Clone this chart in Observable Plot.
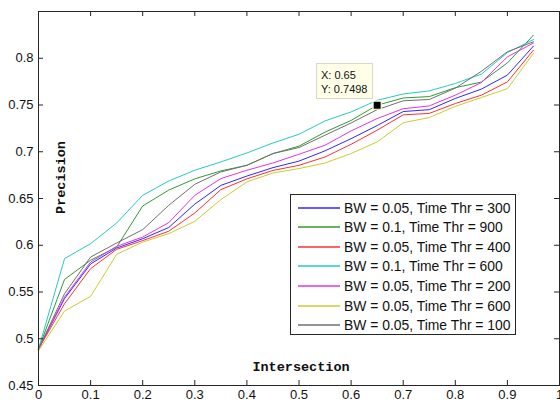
<!DOCTYPE html>
<html>
<head>
<meta charset="utf-8">
<script src="https://cdn.jsdelivr.net/npm/d3@7"></script>
<script src="https://cdn.jsdelivr.net/npm/@observablehq/plot@0.6"></script>
<style>
  html, body { margin: 0; padding: 0; background: #fff; }
  #wrap { position: relative; width: 560px; height: 404px; overflow: hidden; font-family: "Liberation Sans", Arial, Helvetica, sans-serif; }
  #legend { position: absolute; box-sizing: border-box; background: #fff; border: 1px solid #262626; }
  .entry { position: absolute; left: 0; height: 18px; width: 100%; }
  .sw { position: absolute; left: 7px; width: 42px; top: 8px; height: 2px; opacity: 0.75; }
  .lab { position: absolute; left: 53px; top: 0; font-size: 13.9px; line-height: 18px; color: #111; white-space: nowrap; }
  #tip { position: absolute; box-sizing: border-box; background: #ffffe8; border: 1px solid #d8d8c4; font-size: 11px; line-height: 14px; color: #111; padding: 4px 0 0 4px; white-space: nowrap; }
</style>
</head>
<body>
<div id="wrap"></div>
<script>
// ---- data ----
const xs = [0, 0.05, 0.1, 0.15, 0.2, 0.25, 0.3, 0.35, 0.4, 0.45, 0.5, 0.55, 0.6, 0.65, 0.7, 0.75, 0.8, 0.85, 0.9, 0.95];

const seriesNames = [
  "BW = 0.05, Time Thr = 300",
  "BW = 0.1, Time Thr = 900",
  "BW = 0.05, Time Thr = 400",
  "BW = 0.1, Time Thr = 600",
  "BW = 0.05, Time Thr = 200",
  "BW = 0.05, Time Thr = 600",
  "BW = 0.05, Time Thr = 100"
];
const seriesColors = ["#2a2aff", "#339933", "#ff3030", "#2ac8c8", "#e633e6", "#cccc30", "#707070"];

const bw005_300 = [0.489, 0.543, 0.580, 0.597, 0.607, 0.619, 0.644, 0.664, 0.674, 0.683, 0.690, 0.701, 0.714, 0.728, 0.743, 0.745, 0.757, 0.767, 0.782, 0.813];
const bw01_900  = [0.489, 0.5635, 0.584, 0.598, 0.642, 0.659, 0.671, 0.6795, 0.6855, 0.698, 0.706, 0.721, 0.7335, 0.7498, 0.7575, 0.759, 0.7685, 0.7745, 0.795, 0.8247];
const bw005_400 = [0.489, 0.5375, 0.575, 0.5956, 0.605, 0.615, 0.6345, 0.6595, 0.671, 0.680, 0.6855, 0.6944, 0.708, 0.723, 0.7395, 0.741, 0.7516, 0.7605, 0.7747, 0.8087];
const bw01_600  = [0.489, 0.5857, 0.6017, 0.6238, 0.6534, 0.6687, 0.6802, 0.6891, 0.6987, 0.7094, 0.7187, 0.733, 0.7426, 0.755, 0.7618, 0.7651, 0.773, 0.783, 0.806, 0.820];
const bw005_200 = [0.489, 0.5446, 0.582, 0.5988, 0.6088, 0.6242, 0.6534, 0.6713, 0.6802, 0.688, 0.6973, 0.707, 0.7223, 0.7355, 0.746, 0.749, 0.7605, 0.774, 0.8015, 0.8163];
const bw005_600 = [0.487, 0.5296, 0.5453, 0.5903, 0.6034, 0.6124, 0.6256, 0.6488, 0.6677, 0.6773, 0.682, 0.688, 0.6981, 0.7105, 0.731, 0.7366, 0.7485, 0.758, 0.7675, 0.8051];
const bw005_100 = [0.489, 0.5482, 0.5874, 0.6024, 0.6167, 0.6427, 0.6652, 0.6784, 0.6855, 0.6981, 0.7045, 0.7177, 0.7308, 0.745, 0.7545, 0.7559, 0.768, 0.786, 0.807, 0.8176];
const allSeries = [bw005_300, bw01_900, bw005_400, bw01_600, bw005_200, bw005_600, bw005_100];

const xTicks = [0, 0.1, 0.2, 0.3, 0.4, 0.5, 0.6, 0.7, 0.8, 0.9, 1];
const yTicks = [0.45, 0.5, 0.55, 0.6, 0.65, 0.7, 0.75, 0.8];

const markerX = [0.65];
const markerY = [0.7498];

const xTitle = "Intersection";
const yTitle = "Precision";

// ---- build ----
const W = 560, H = 404;
const mT = 11, mB = 19, mL = 38, mR = 1;
const innerW = W - mL - mR, innerH = H - mT - mB;
const axisColor = "#262626";
const fmt = d => String(+d.toFixed(2));

const rows = [];
allSeries.forEach((vals, si) => vals.forEach((v, i) => rows.push({x: xs[i], y: v, s: seriesNames[si]})));
const markerData = markerX.map((x, i) => ({x, y: markerY[i]}));

const chart = Plot.plot({
  width: W, height: H,
  marginTop: mT, marginBottom: mB, marginLeft: mL, marginRight: mR,
  x: {domain: [0, 1]},
  y: {domain: [0.45, 0.85]},
  color: {domain: seriesNames, range: seriesColors},
  style: {fontFamily: "'Liberation Sans', Arial, Helvetica, sans-serif", fontSize: "13px", color: axisColor, background: "white", overflow: "visible"},
  marks: [
    Plot.lineY(rows, {x: "x", y: "y", z: "s", stroke: "s", strokeWidth: 1}),
    Plot.frame({stroke: axisColor, strokeWidth: 1}),
    // inward ticks on all four sides
    Plot.tickX(xTicks, {x: d => d, insetTop: innerH - 5, stroke: axisColor}),
    Plot.tickX(xTicks, {x: d => d, insetBottom: innerH - 5, stroke: axisColor}),
    Plot.tickY(yTicks, {y: d => d, insetRight: innerW - 5, stroke: axisColor}),
    Plot.tickY(yTicks, {y: d => d, insetLeft: innerW - 5, stroke: axisColor}),
    Plot.axisX(xTicks, {tickSize: 0, tickPadding: 4, tickFormat: fmt, label: null, fontSize: 13, fill: "#111"}),
    Plot.axisY(yTicks, {tickSize: 0, tickPadding: 5, tickFormat: fmt, label: null, fontSize: 13, fill: "#111"}),
    Plot.text([xTitle], {frameAnchor: "bottom", dy: -15, dx: 2, text: d => d, fontFamily: "'Courier New', 'Liberation Mono', monospace", fontWeight: "bold", fontSize: 13.5, fill: "#111"}),
    Plot.text([yTitle], {frameAnchor: "left", textAnchor: "middle", dx: 22, dy: -21, rotate: -90, text: d => d, fontFamily: "'Courier New', 'Liberation Mono', monospace", fontWeight: "bold", fontSize: 13.5, fill: "#111"}),
    Plot.dot(markerData, {x: "x", y: "y", symbol: "square", r: 4.6, fill: "black", stroke: "#ffffd8", strokeWidth: 1.2})
  ]
});

const wrap = document.getElementById("wrap");
wrap.appendChild(chart);

// legend (inside axes, like MATLAB)
const legend = document.createElement("div");
legend.id = "legend";
legend.style.left = "290px";
legend.style.top = "194px";
legend.style.width = "226px";
legend.style.height = "141px";
seriesNames.forEach((name, i) => {
  const e = document.createElement("div");
  e.className = "entry";
  e.style.top = Math.round(3.5 + i * 19.6) + "px";
  const sw = document.createElement("div");
  sw.className = "sw";
  sw.style.background = seriesColors[i];
  const lb = document.createElement("div");
  lb.className = "lab";
  lb.textContent = name;
  e.appendChild(sw); e.appendChild(lb);
  legend.appendChild(e);
});
wrap.appendChild(legend);

// data tip
const sx = chart.scale("x"), sy = chart.scale("y");
markerData.forEach(m => {
  const px = sx.apply(m.x), py = sy.apply(m.y);
  const tip = document.createElement("div");
  tip.id = "tip";
  tip.style.left = Math.round(px - 61) + "px";
  tip.style.top = Math.round(py - 42) + "px";
  tip.style.width = "57px";
  tip.style.height = "36px";
  tip.innerHTML = "X: " + fmt(m.x) + "<br>Y: " + m.y.toFixed(4);
  wrap.appendChild(tip);
});
</script>
</body>
</html>
